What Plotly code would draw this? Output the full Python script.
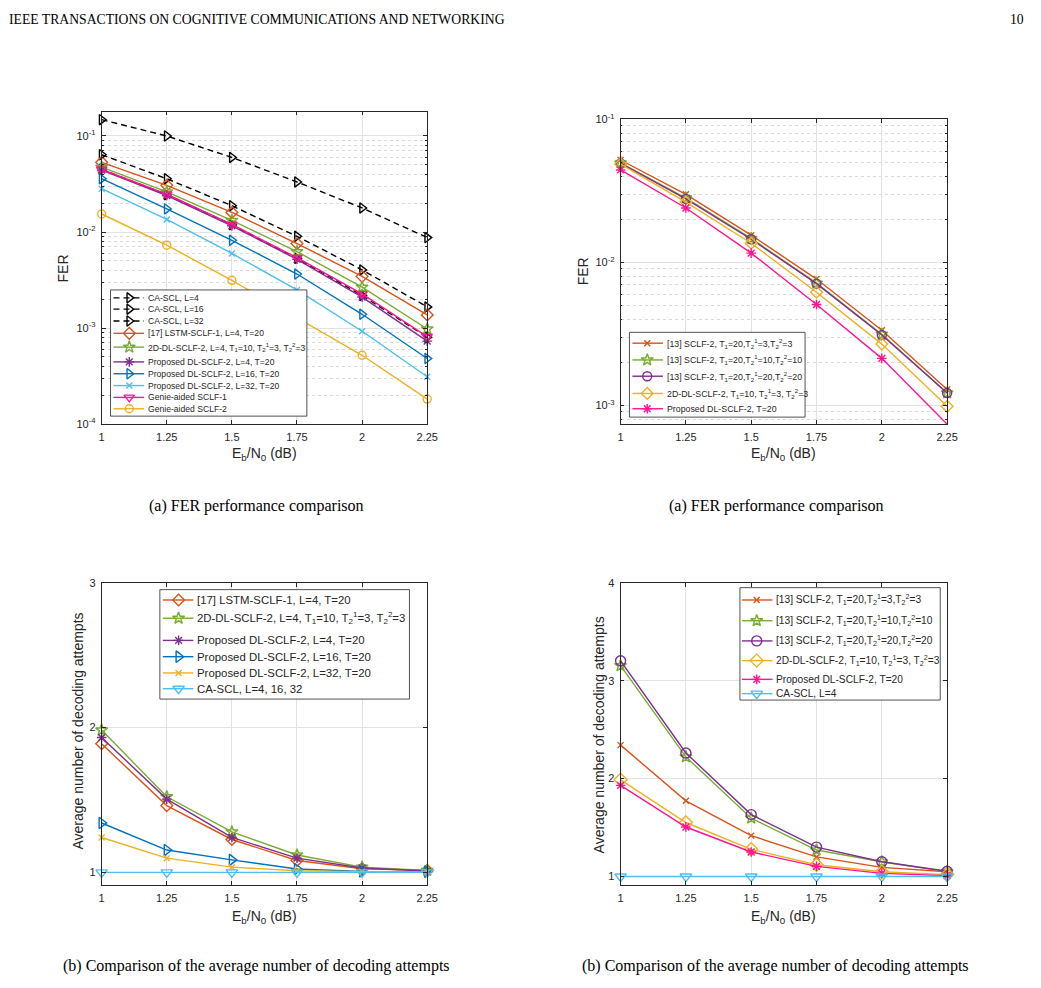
import plotly.graph_objects as go

W, H = 1041, 988
SANS = "Liberation Sans, Arial, Helvetica, sans-serif"
SERIF = "Liberation Serif, Times New Roman, serif"
AX = "#262626"
GRID = "#e2e2e2"
MGRID = "#d9d9d9"

# ------------------------------------------------------------------ data
EBN0 = [1.0, 1.25, 1.5, 1.75, 2.0, 2.25]
X_TICK_TEXT = ["1", "1.25", "1.5", "1.75", "2", "2.25"]

# (a) left : FER
FER_L_CA_SCL_L4 = [0.148, 0.100, 0.0598, 0.0332, 0.0178, 0.00875]
FER_L_CA_SCL_L16 = [0.0638, 0.0359, 0.0188, 0.00902, 0.00403, 0.00166]
FER_L_CA_SCL_L32 = [0.0450, 0.0245, 0.0119, 0.00532, 0.00218, 0.00080]
FER_L_LSTM = [0.0532, 0.0306, 0.0160, 0.00758, 0.00345, 0.00137]
FER_L_2DDL = [0.0473, 0.0262, 0.0132, 0.00624, 0.00266, 0.000977]
FER_L_PROP_L4 = [0.0441, 0.0240, 0.0116, 0.00520, 0.00210, 0.00073]
FER_L_PROP_L16 = [0.0359, 0.0174, 0.0082, 0.00365, 0.00139, 0.000481]
FER_L_PROP_L32 = [0.0283, 0.0135, 0.00598, 0.00249, 0.000925, 0.000311]
FER_L_GENIE1 = [0.0448, 0.0248, 0.0120, 0.00540, 0.00227, 0.000815]
FER_L_GENIE2 = [0.0154, 0.00729, 0.00314, 0.00129, 0.00052, 0.000182]

# (a) right : FER
FER_R_SCLF2_T3 = [0.0520, 0.0299, 0.0155, 0.00764, 0.00335, 0.00129]
FER_R_SCLF2_T10 = [0.0497, 0.0282, 0.0147, 0.00716, 0.00314, 0.00122]
FER_R_SCLF2_T20 = [0.0492, 0.0278, 0.0145, 0.00710, 0.00310, 0.00122]
FER_R_2DDL = [0.0487, 0.0264, 0.0136, 0.00618, 0.00268, 0.000984]
FER_R_PROP = [0.0443, 0.0240, 0.0116, 0.00507, 0.00213, 0.000738]

# (b) left : average number of decoding attempts
ATT_L_LSTM = [1.888, 1.461, 1.227, 1.082, 1.025, 1.014]
ATT_L_2DDL = [1.983, 1.522, 1.279, 1.120, 1.036, 1.014]
ATT_L_PROP_L4 = [1.931, 1.506, 1.241, 1.098, 1.030, 1.009]
ATT_L_PROP_L16 = [1.341, 1.154, 1.086, 1.023, 1.007, 1.005]
ATT_L_PROP_L32 = [1.241, 1.098, 1.036, 1.011, 1.005, 1.002]
ATT_L_CA_SCL = [1.0, 1.0, 1.0, 1.0, 1.0, 1.0]

# (b) right : average number of decoding attempts
ATT_R_SCLF2_T3 = [2.342, 1.773, 1.418, 1.201, 1.094, 1.050]
ATT_R_SCLF2_T10 = [3.153, 2.222, 1.596, 1.271, 1.151, 1.050]
ATT_R_SCLF2_T20 = [3.203, 2.262, 1.633, 1.301, 1.151, 1.054]
ATT_R_2DDL = [1.988, 1.552, 1.278, 1.121, 1.050, 1.020]
ATT_R_PROP = [1.931, 1.506, 1.251, 1.104, 1.033, 1.010]
ATT_R_CA_SCL = [1.0, 1.0, 1.0, 1.0, 1.0, 1.0]

# legend labels
T121 = "T<sub>1</sub>"
def t2(k):
    return "T<sub>2</sub><sup>%d</sup>" % k

LAB_TL = [
    "CA-SCL, L=4", "CA-SCL, L=16", "CA-SCL, L=32",
    "[17] LSTM-SCLF-1, L=4, T=20",
    "2D-DL-SCLF-2, L=4, " + T121 + "=10, " + t2(1) + "=3, " + t2(2) + "=3",
    "Proposed DL-SCLF-2, L=4, T=20", "Proposed DL-SCLF-2, L=16, T=20",
    "Proposed DL-SCLF-2, L=32, T=20", "Genie-aided SCLF-1", "Genie-aided SCLF-2",
]
LAB_TR = [
    "[13] SCLF-2, " + T121 + "=20," + t2(1) + "=3," + t2(2) + "=3",
    "[13] SCLF-2, " + T121 + "=20," + t2(1) + "=10," + t2(2) + "=10",
    "[13] SCLF-2, " + T121 + "=20," + t2(1) + "=20," + t2(2) + "=20",
    "2D-DL-SCLF-2, " + T121 + "=10, " + t2(1) + "=3, " + t2(2) + "=3",
    "Proposed DL-SCLF-2, T=20",
]
LAB_BL = [
    "[17] LSTM-SCLF-1, L=4, T=20",
    "2D-DL-SCLF-2, L=4, " + T121 + "=10, " + t2(1) + "=3, " + t2(2) + "=3",
    "Proposed DL-SCLF-2, L=4, T=20", "Proposed DL-SCLF-2, L=16, T=20",
    "Proposed DL-SCLF-2, L=32, T=20", "CA-SCL, L=4, 16, 32",
]
LAB_BR = LAB_TR + ["CA-SCL, L=4"]

# ------------------------------------------------------------------ styles
ORANGE, GREEN, PURPLE = "#D95319", "#77AC30", "#7E2F8E"
BLUE, LBLUE, YELLOW = "#0072BD", "#4DBEEE", "#EDB120"
PINK, BLACK = "#FF1493", "#000000"
DASH = "6px,4px"

S_TL = [
    (FER_L_CA_SCL_L4, BLACK, "triangle-right-open", DASH, 9),
    (FER_L_CA_SCL_L16, BLACK, "triangle-right-open", DASH, 9),
    (FER_L_CA_SCL_L32, BLACK, "triangle-right-open", DASH, 9),
    (FER_L_LSTM, ORANGE, "diamond-open", "solid", 9),
    (FER_L_2DDL, GREEN, "star-open", "solid", 9),
    (FER_L_PROP_L4, PURPLE, "asterisk-open", "solid", 8),
    (FER_L_PROP_L16, BLUE, "triangle-right-open", "solid", 9),
    (FER_L_PROP_L32, LBLUE, "x-thin-open", "solid", 6),
    (FER_L_GENIE1, PINK, "triangle-down-open", "solid", 9),
    (FER_L_GENIE2, YELLOW, "circle-open", "solid", 8),
]
S_TR = [
    (FER_R_SCLF2_T3, ORANGE, "x-thin-open", "solid", 6),
    (FER_R_SCLF2_T10, GREEN, "star-open", "solid", 9),
    (FER_R_SCLF2_T20, PURPLE, "circle-open", "solid", 9),
    (FER_R_2DDL, YELLOW, "diamond-open", "solid", 9),
    (FER_R_PROP, PINK, "asterisk-open", "solid", 8),
]
S_BL = [
    (ATT_L_LSTM, ORANGE, "diamond-open", "solid", 9),
    (ATT_L_2DDL, GREEN, "star-open", "solid", 9),
    (ATT_L_PROP_L4, PURPLE, "asterisk-open", "solid", 8),
    (ATT_L_PROP_L16, BLUE, "triangle-right-open", "solid", 10),
    (ATT_L_PROP_L32, YELLOW, "x-thin-open", "solid", 6),
    (ATT_L_CA_SCL, LBLUE, "triangle-down-open", "solid", 10),
]
S_BR = [
    (ATT_R_SCLF2_T3, ORANGE, "x-thin-open", "solid", 6),
    (ATT_R_SCLF2_T10, GREEN, "star-open", "solid", 9),
    (ATT_R_SCLF2_T20, PURPLE, "circle-open", "solid", 10),
    (ATT_R_2DDL, YELLOW, "diamond-open", "solid", 10),
    (ATT_R_PROP, PINK, "asterisk-open", "solid", 8),
    (ATT_R_CA_SCL, LBLUE, "triangle-down-open", "solid", 10),
]


def px(x):
    return x / W


def py(y):
    return 1 - y / H


fig = go.Figure()

PANELS = [
    # key, box (x0, x1, ytop, ybottom), axis ids, series
    ("tl", (100, 430, 105, 422), "x", "y", S_TL),
    ("tr", (626, 957, 113, 422), "x2", "y2", S_TR),
    ("bl", (100, 430, 583, 890), "x3", "y3", S_BL),
    ("br", (626, 957, 583, 890), "x4", "y4", S_BR),
]

for key, box, xa, ya, series in PANELS:
    for vals, col, sym, dash, ms in series:
        fig.add_trace(go.Scatter(
            x=EBN0, y=vals, mode="lines+markers", xaxis=xa, yaxis=ya,
            line=dict(color=col, width=1.4, dash=dash),
            marker=dict(symbol=sym, size=ms, color=col,
                        line=dict(color=col, width=1.4)),
            cliponaxis=False, showlegend=False, hoverinfo="skip"))

common = dict(showline=True, linecolor=AX, linewidth=0.8, mirror="ticks",
              ticks="inside", ticklen=4, tickwidth=0.8, tickcolor=AX,
              showgrid=True, gridcolor=GRID, gridwidth=0.8, zeroline=False,
              tickfont=dict(family=SANS, size=11, color=AX),
              ticklabelstandoff=3)

minor_vals = [k * 10.0 ** e for e in (-5, -4, -3, -2, -1) for k in range(2, 10)]
minor_cfg = dict(tickvals=minor_vals, ticks="inside", ticklen=2, tickcolor=AX,
                 showgrid=True, gridcolor=MGRID, griddash="dot", gridwidth=0.8)

layout_axes = {}
for i, (key, (x0, x1, yt, yb), xa, ya, series) in enumerate(PANELS):
    n = "" if i == 0 else str(i + 1)
    layout_axes["xaxis" + n] = dict(domain=[px(x0), px(x1)], anchor=ya,
                                    range=[1, 2.25], tickmode="array",
                                    tickvals=EBN0, ticktext=X_TICK_TEXT, **common)
    ydict = dict(domain=[py(yb), py(yt)], anchor=xa, **common)
    if key == "tl":
        ydict.update(type="log", range=[-4.0, -0.745], tickmode="array",
                     tickvals=[1e-4, 1e-3, 1e-2, 1e-1],
                     ticktext=["10<sup>-4</sup>", "10<sup>-3</sup>",
                               "10<sup>-2</sup>", "10<sup>-1</sup>"],
                     minor=minor_cfg)
    elif key == "tr":
        ydict.update(type="log", range=[-3.131, -1.0], tickmode="array",
                     tickvals=[1e-3, 1e-2, 1e-1],
                     ticktext=["10<sup>-3</sup>", "10<sup>-2</sup>", "10<sup>-1</sup>"],
                     minor=minor_cfg)
    elif key == "bl":
        ydict.update(range=[0.91, 3.0], tickmode="array", tickvals=[1, 2, 3],
                     ticktext=["1", "2", "3"])
    else:
        ydict.update(range=[0.91, 4.0], tickmode="array", tickvals=[1, 2, 3, 4],
                     ticktext=["1", "2", "3", "4"])
    layout_axes["yaxis" + n] = ydict

# overlay pixel axis for the legends
layout_axes["xaxis5"] = dict(domain=[0, 1], range=[0, W], visible=False,
                             fixedrange=True, anchor="y5")
layout_axes["yaxis5"] = dict(domain=[0, 1], range=[H, 0], visible=False,
                             fixedrange=True, anchor="x5")

annotations = []

LEGENDS = [
    # box (x0, x1, y0, y1), line x0, line x1, marker x, text x, row centres, font size, labels, series
    ((109, 308, 286, 414), 112, 143, 128, 145,
     [294, 305.5, 317.5, 330, 344, 359, 371, 383, 395, 406.5], 8.6, LAB_TL, S_TL),
    ((635, 813, 329, 415), 638, 669, 653, 671,
     [340, 357, 373.5, 391, 406.5], 8.8, LAB_TR, S_TR),
    ((159, 412, 590, 701), 162, 193, 178, 195,
     [600.5, 619, 641.5, 658, 674.5, 690.5], 11.4, LAB_BL, S_BL),
    ((747, 950, 588, 702), 749, 780, 764, 782,
     [600.5, 621.5, 642, 662, 681, 695.5], 10.2, LAB_BR, S_BR),
]

for (bx0, bx1, by0, by1), lx0, lx1, mx, tx, rows, fs, labels, series in LEGENDS:
    fig.add_trace(go.Scatter(
        x=[bx0, bx1, bx1, bx0, bx0], y=[by0, by0, by1, by1, by0],
        mode="lines", fill="toself", fillcolor="white",
        line=dict(color=AX, width=0.8), xaxis="x5", yaxis="y5",
        showlegend=False, hoverinfo="skip"))
    for yc, lab, (vals, col, sym, dash, ms) in zip(rows, labels, series):
        fig.add_trace(go.Scatter(
            x=[lx0, lx1], y=[yc, yc], mode="lines", xaxis="x5", yaxis="y5",
            line=dict(color=col, width=1.4, dash=dash),
            showlegend=False, hoverinfo="skip"))
        fig.add_trace(go.Scatter(
            x=[mx], y=[yc], mode="markers", xaxis="x5", yaxis="y5",
            marker=dict(symbol=sym, size=ms, color=col,
                        line=dict(color=col, width=1.4)),
            showlegend=False, hoverinfo="skip"))
        annotations.append(dict(
            x=px(tx), y=py(yc), xref="paper", yref="paper", text=lab,
            showarrow=False, xanchor="left", yanchor="middle",
            font=dict(family=SANS, size=fs, color=AX)))

# axis titles
XLAB = "E<sub>b</sub>/N<sub>0</sub> (dB)"
for cx, cy in [(265, 452), (791, 452), (265, 922), (791, 922)]:
    annotations.append(dict(x=px(cx), y=py(cy), xref="paper", yref="paper",
                            text=XLAB, showarrow=False, xanchor="center",
                            yanchor="middle", font=dict(family=SANS, size=14, color=AX)))
for cx, cy, txt in [(61, 264, "FER"), (588, 267, "FER"),
                    (76, 733, "Average number of decoding attempts"),
                    (604, 737, "Average number of decoding attempts")]:
    annotations.append(dict(x=px(cx), y=py(cy), xref="paper", yref="paper",
                            text=txt, showarrow=False, textangle=-90,
                            xanchor="center", yanchor="middle",
                            font=dict(family=SANS, size=14, color=AX)))

# captions and page header
for cx, cy, txt in [(257, 505, "(a) FER performance comparison"),
                    (784, 505, "(a) FER performance comparison"),
                    (257, 972, "(b) Comparison of the average number of decoding attempts"),
                    (783, 972, "(b) Comparison of the average number of decoding attempts")]:
    annotations.append(dict(x=px(cx), y=py(cy), xref="paper", yref="paper",
                            text=txt, showarrow=False, xanchor="center",
                            yanchor="middle", font=dict(family=SERIF, size=16, color="#000")))
annotations.append(dict(x=px(4), y=py(12), xref="paper", yref="paper",
                        text="IEEE TRANSACTIONS ON COGNITIVE COMMUNICATIONS AND NETWORKING",
                        showarrow=False, xanchor="left", yanchor="middle",
                        font=dict(family=SERIF, size=13.7, color="#000")))
annotations.append(dict(x=px(1037), y=py(12), xref="paper", yref="paper",
                        text="10", showarrow=False, xanchor="right", yanchor="middle",
                        font=dict(family=SERIF, size=13.7, color="#000")))

fig.update_layout(
    width=W, height=H, margin=dict(l=0, r=0, t=0, b=0),
    paper_bgcolor="white", plot_bgcolor="rgba(0,0,0,0)",
    showlegend=False, annotations=annotations, hovermode=False,
    **layout_axes)

fig.write_html("out.html")
